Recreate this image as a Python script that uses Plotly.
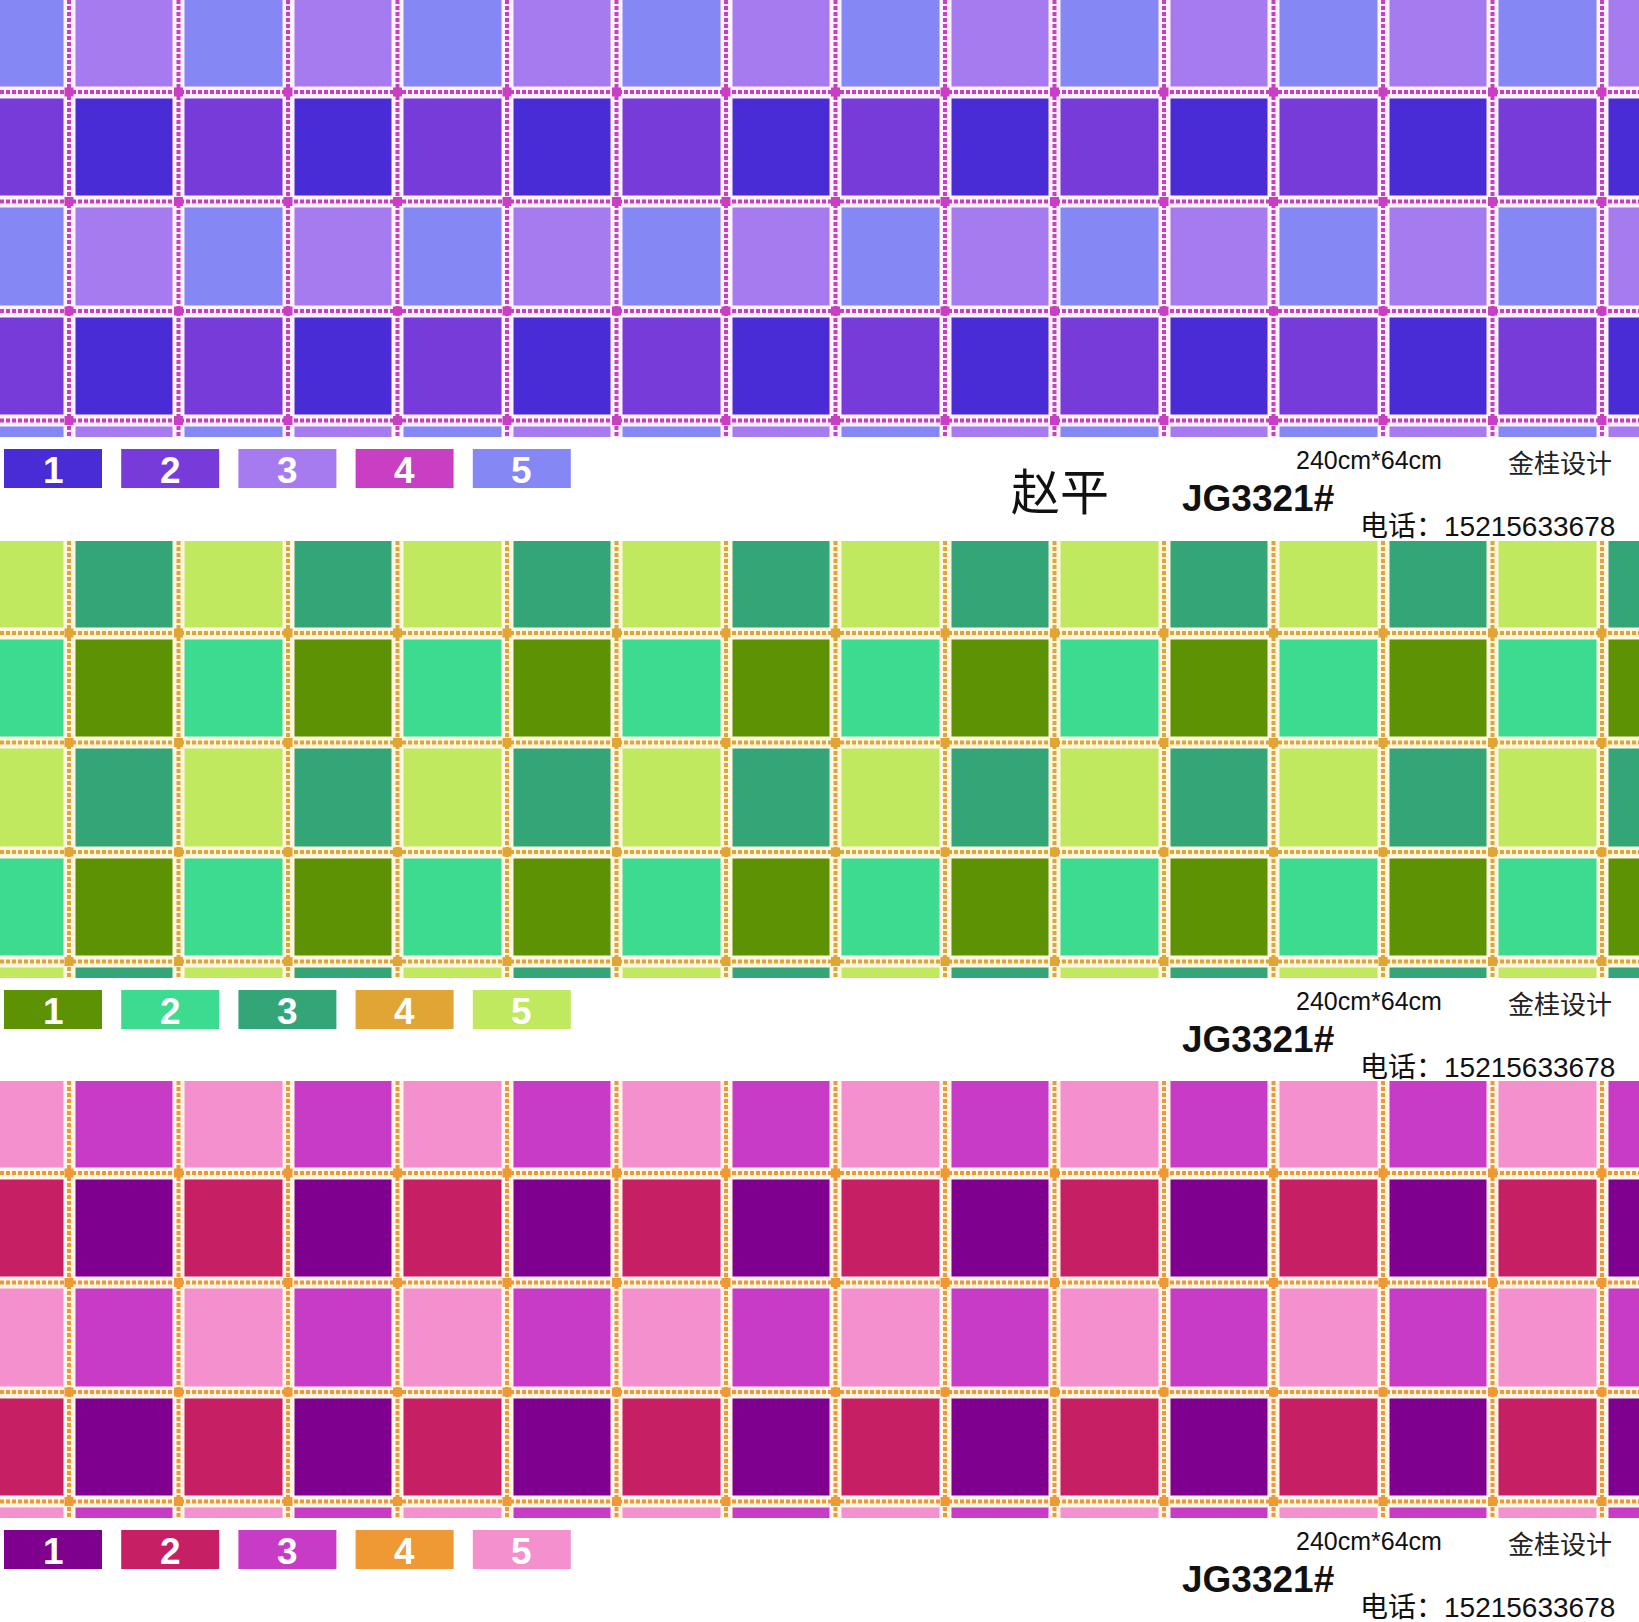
"""
Plaid swatch card JG3321# - three colourways of the same check,
each with its colour chips and the card text underneath
"""
import numpy as np
import plotly.graph_objects as go

W, H = 1639, 1622

# colour chips 1-5 for each colourway
purple_way = ['#4A2CD6', '#773BD9', '#A77BF0', '#C93FC4', '#8487F4']
green_way = ['#5E9205', '#3DDB8F', '#34A577', '#E0A535', '#C0E95F']
pink_way = ['#7F008E', '#C71F64', '#C83BC6', '#EE9934', '#F590CF']
colourways = [purple_way, green_way, pink_way]
band_bg = ['#FDF1FB', '#FFF6E2', '#FFF4E8']

# colour number of each block in one repeat (chip 4 is the dotted stitch line)
repeat = [[5, 3],
          [2, 1]]
stitch_chip = 4

swatch_labels = ['1', '2', '3', '4', '5']
size_text = '240cm*64cm'
code_text = 'JG3321#'
studio_text = '金桂设计'
phone_text = '电话：15215633678'
client_text = '赵平'

# layout of the card, pixels
panel_tops = [0, 541, 1081]
panel_h = 437
pitch = 109.5
first_vline = 69
first_hline = 92
n_cols, n_rows = 16, 5
n_vlines, n_hlines = 15, 4

fig = go.Figure()

for p, (top, way) in enumerate(zip(panel_tops, colourways)):
    ya = 'y' if p == 0 else f'y{p + 1}'
    z = np.tile(np.array(repeat), (n_rows // 2 + 1, n_cols // 2))[:n_rows, :n_cols]
    scale = []
    for i, c in enumerate(way):
        scale += [[i / 5, c], [(i + 1) / 5, c]]
    fig.add_trace(go.Heatmap(
        z=z, x0=first_vline - pitch / 2, dx=pitch, y0=first_hline - pitch / 2, dy=pitch,
        zmin=0.5, zmax=5.5, colorscale=scale, showscale=False, xgap=12, ygap=12,
        hoverinfo='skip', xaxis='x', yaxis=ya))

    # stitch lines
    vx = [first_vline + k * pitch for k in range(n_vlines)]
    hy = [first_hline + j * pitch for j in range(n_hlines)]
    lx, ly = [], []
    for x in vx:
        lx += [x, x, None]
        ly += [0, panel_h, None]
    for y in hy:
        lx += [0, W, None]
        ly += [y, y, None]
    col = way[stitch_chip - 1]
    fig.add_trace(go.Scatter(x=lx, y=ly, mode='lines', line=dict(color=col, width=4, dash='4px,2px'),
                             hoverinfo='skip', showlegend=False, xaxis='x', yaxis=ya))
    ix = [x for x in vx for y in hy]
    iy = [y for x in vx for y in hy]
    fig.add_trace(go.Scatter(x=ix, y=iy, mode='markers',
                             marker=dict(symbol='square', size=9, color=col, line=dict(width=0)),
                             hoverinfo='skip', showlegend=False, xaxis='x', yaxis=ya))

    fig.add_shape(type='rect', xref='x', yref=ya, x0=0, x1=W, y0=0, y1=panel_h,
                  fillcolor=band_bg[p], line_width=0, layer='below')

    # colour chips
    cx = [53 + i * 117.2 for i in range(len(swatch_labels))]
    fig.add_trace(go.Bar(x=cx, y=[39] * 5, base=[top + 449] * 5, width=98,
                         marker=dict(color=way, line=dict(width=0)),
                         hoverinfo='skip', showlegend=False, xaxis='x', yaxis='y4'))
    for x, lab in zip(cx, swatch_labels):
        fig.add_annotation(x=x, y=top + 470, text=lab, showarrow=False, xref='x', yref='y4',
                           font=dict(family='Liberation Sans', size=37, color='white', weight='bold'))

    # card text
    fig.add_annotation(x=1294, y=top + 460, text=size_text, xanchor='left', showarrow=False,
                       xref='x', yref='y4', font=dict(family='Liberation Sans', size=25, color='#111'))
    fig.add_annotation(x=1506, y=top + 461, text=studio_text, xanchor='left', showarrow=False,
                       xref='x', yref='y4', font=dict(family='Noto Sans CJK SC', size=26, color='#222'))
    fig.add_annotation(x=1180, y=top + 498, text=code_text, xanchor='left', showarrow=False,
                       xref='x', yref='y4',
                       font=dict(family='Liberation Sans', size=37, color='#111', weight='bold'))
    fig.add_annotation(x=1358, y=top + 526, text=phone_text, xanchor='left', showarrow=False,
                       xref='x', yref='y4', font=dict(family='Liberation Sans, Noto Sans CJK SC',
                                                     size=28, color='#111'))
    if p == 0:
        fig.add_annotation(x=1009, y=top + 488, text=client_text, xanchor='left', showarrow=False,
                           xref='x', yref='y4', font=dict(family='Noto Sans CJK SC', size=49, color='#111'))

axis_off = dict(visible=False, showgrid=False, zeroline=False, fixedrange=True)
layout_axes = {}
for p, top in enumerate(panel_tops):
    name = 'yaxis' if p == 0 else f'yaxis{p + 1}'
    layout_axes[name] = dict(axis_off, range=[panel_h, 0], anchor='x',
                             domain=[1 - (top + panel_h) / H, 1 - top / H])
layout_axes['yaxis4'] = dict(axis_off, range=[H, 0], anchor='x', domain=[0, 1])

fig.update_layout(
    width=W, height=H, margin=dict(l=0, r=0, t=0, b=0),
    paper_bgcolor='white', plot_bgcolor='rgba(0,0,0,0)',
    xaxis=dict(axis_off, range=[0, W]), barmode='overlay', showlegend=False,
    **layout_axes)

# page body has an 8px margin by default, drop it so the card fills the window
fig.write_html('out.html', config={'displayModeBar': False},
               post_script="document.body.style.margin='0';document.body.style.overflow='hidden';")
